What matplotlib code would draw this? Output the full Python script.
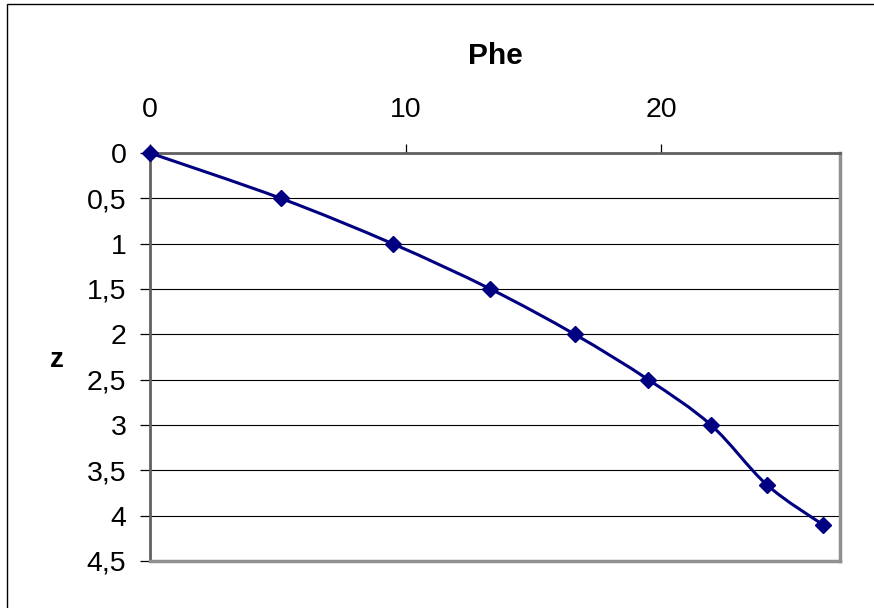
import numpy as np
import matplotlib
matplotlib.use("Agg")
import matplotlib.pyplot as plt
from matplotlib.path import Path
from matplotlib.patches import PathPatch, Rectangle
from matplotlib.ticker import FuncFormatter, MultipleLocator

plt.rcParams['font.family'] = ['Liberation Sans', 'DejaVu Sans']

# Phe profile along depth z
phe = [0.0, 5.12, 9.49, 13.32, 16.62, 19.5, 21.95, 24.14, 26.33]
z = [0.0, 0.5, 1.0, 1.5, 2.0, 2.5, 3.0, 3.66, 4.10]
x_ticks = [0, 10, 20]
x_max = 27
z_max = 4.5

NAVY = '#000080'

W, H = 874, 608
fig = plt.figure(figsize=(W / 100, H / 100), dpi=100)
ax = fig.add_axes([150 / W, 1 - 561 / H, 690 / W, 408 / H])

# outer chart border (left and top edges visible)
fig.patches.append(Rectangle((6.5 / W, -0.1), 1.2, 0.1 + (H - 4.5) / H,
                             transform=fig.transFigure, fill=False,
                             edgecolor='black', linewidth=1.0))

ax.set_xlim(0, x_max)
ax.set_ylim(z_max, 0)
ax.set_xticks(x_ticks)
ax.yaxis.set_major_locator(MultipleLocator(0.5))
ax.yaxis.set_major_formatter(
    FuncFormatter(lambda v, _: f"{v:g}".replace('.', ',')))
ax.xaxis.tick_top()
ax.xaxis.set_label_position('top')

ax.grid(axis='y', color='black', linewidth=0.8)
ax.set_axisbelow(True)

for side in ['left', 'top']:
    ax.spines[side].set_color('#606060')
    ax.spines[side].set_linewidth(2.0)
for side in ['right', 'bottom']:
    ax.spines[side].set_color('#909090')
    ax.spines[side].set_linewidth(2.5)

ax.tick_params(axis='y', direction='out', length=7, width=0.9, color='black',
               labelsize=20.5, pad=10)
ax.tick_params(axis='x', direction='out', length=6.5, width=0.9, color='black',
               labelsize=20.5, pad=15)

ax.set_xlabel('Phe', fontsize=21.5, fontweight='bold', va='baseline')
ax.xaxis.set_label_coords(0.5, (561 - 64) / 408)
ax.set_ylabel('z', fontsize=20, fontweight='bold', rotation=0,
              va='center', ha='center')
ax.yaxis.set_label_coords((57 - 150) / 690, (561 - 360) / 408)

# smoothed connecting curve (Catmull-Rom as cubic Bezier segments)
pts = np.column_stack([phe, z])
ext = np.vstack([pts[0], pts, pts[-1]])
verts = [tuple(pts[0])]
codes = [Path.MOVETO]
for i in range(len(pts) - 1):
    p0, p1, p2, p3 = ext[i], ext[i + 1], ext[i + 2], ext[i + 3]
    c1 = p1 + (p2 - p0) / 6.0
    c2 = p2 - (p3 - p1) / 6.0
    verts += [tuple(c1), tuple(c2), tuple(p2)]
    codes += [Path.CURVE4] * 3
curve = PathPatch(Path(verts, codes), facecolor='none', edgecolor=NAVY,
                  linewidth=2.2, transform=ax.transData, zorder=3,
                  clip_on=False)
ax.add_patch(curve)

ax.plot(phe, z, linestyle='none', marker='D', markersize=8.5,
        markeredgewidth=1.0, color=NAVY, zorder=4, clip_on=False)

fig.savefig('out.png', dpi=100)
